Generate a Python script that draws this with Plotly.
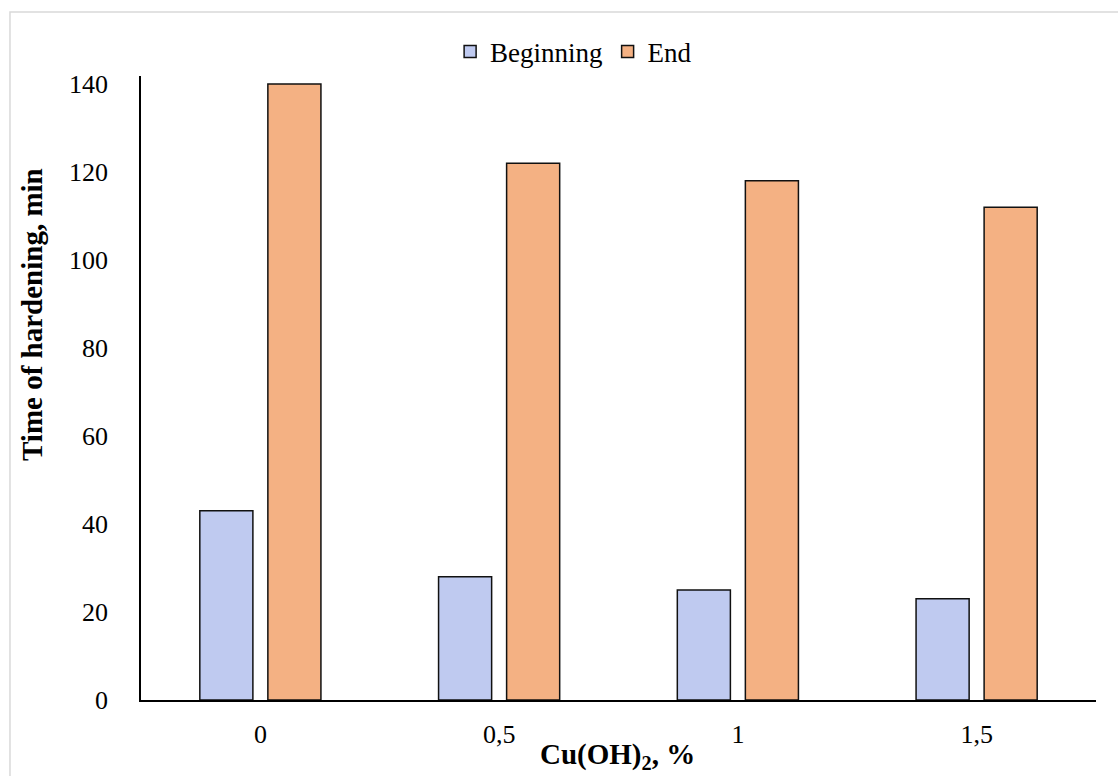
import plotly.graph_objects as go

categories = ["0", "0,5", "1", "1,5"]
beginning = [43, 28, 25, 23]
end = [140, 122, 118, 112]
y_ticks = [0, 20, 40, 60, 80, 100, 120, 140]

FONT = "Liberation Serif, Times New Roman, serif"

fig = go.Figure()
fig.add_trace(go.Bar(
    x=categories, y=beginning, name="Beginning",
    marker=dict(color="#bfcaf0", line=dict(color="#111111", width=1.5)),
))
fig.add_trace(go.Bar(
    x=categories, y=end, name="End",
    marker=dict(color="#f4b183", line=dict(color="#111111", width=1.5)),
))

fig.update_layout(
    width=1118, height=776,
    margin=dict(l=141, r=22, t=76, b=76),
    paper_bgcolor="white", plot_bgcolor="white",
    barmode="group", bargap=0.43, bargroupgap=0.22,
    font=dict(family=FONT, size=26, color="#000000"),
    showlegend=True,
    legend=dict(orientation="h", x=0.453, xanchor="center", y=1.0385, yanchor="middle",
                font=dict(family=FONT, size=27, color="#000000"), itemwidth=30,
                traceorder="normal", bgcolor="rgba(0,0,0,0)"),
    xaxis=dict(
        showline=True, linecolor="#000000", linewidth=1.5,
        ticks="outside", ticklen=10, tickcolor="rgba(0,0,0,0)", automargin=False,
        showgrid=False, tickfont=dict(family=FONT, size=26),
    ),
    yaxis=dict(
        range=[0, 141.8], tickvals=y_ticks, automargin=False,
        showline=True, linecolor="#000000", linewidth=1.5,
        ticks="outside", ticklen=26, tickcolor="rgba(0,0,0,0)",
        showgrid=False, zeroline=False, tickfont=dict(family=FONT, size=26),
    ),
    annotations=[
        dict(text="<b>Time of hardening, min</b>", textangle=-90,
             xref="paper", yref="paper", x=(32 - 141) / 955, y=(700 - 315) / 624,
             xanchor="center", yanchor="middle", showarrow=False,
             font=dict(family=FONT, size=29, color="#000000")),
        dict(text="<b>Cu(OH)<sub>2</sub>, %</b>",
             xref="paper", yref="paper", x=(617 - 141) / 955, y=(700 - 756) / 624,
             xanchor="center", yanchor="middle", showarrow=False,
             font=dict(family=FONT, size=29, color="#000000")),
    ],
    shapes=[dict(type="rect", xref="paper", yref="paper",
                 x0=-0.1372, x1=1.05, y0=-0.2, y1=1.1026,
                 line=dict(color="#d9d9d9", width=1.5), fillcolor="rgba(0,0,0,0)", layer="below")],
)

fig.write_html("out.html")
